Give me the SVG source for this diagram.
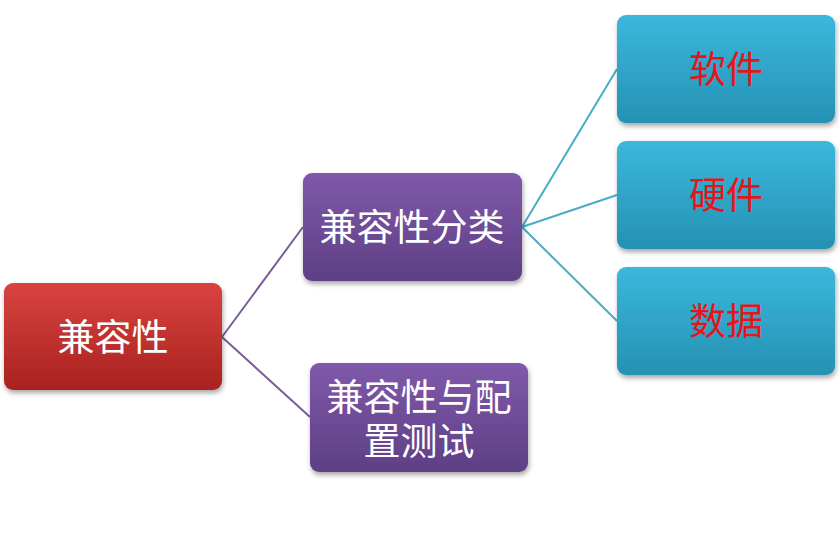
<svg xmlns="http://www.w3.org/2000/svg" width="840" height="548" viewBox="0 0 840 548">
<defs>
<linearGradient id="gr" x1="0" y1="0" x2="0" y2="1"><stop offset="0" stop-color="#d9433f"/><stop offset="1" stop-color="#a9221f"/></linearGradient>
<linearGradient id="gp" x1="0" y1="0" x2="0" y2="1"><stop offset="0" stop-color="#8059aa"/><stop offset="1" stop-color="#5e3f85"/></linearGradient>
<linearGradient id="gc" x1="0" y1="0" x2="0" y2="1"><stop offset="0" stop-color="#3bb8dc"/><stop offset="1" stop-color="#2591b3"/></linearGradient>
<filter id="sh" x="-10%" y="-10%" width="125%" height="130%"><feDropShadow dx="1" dy="3" stdDeviation="2.5" flood-color="#000" flood-opacity="0.35"/></filter>
</defs>
<style>
text{font-family:"Noto Sans CJK SC",sans-serif;font-size:37px;text-anchor:middle;dominant-baseline:central}
.w{fill:#fff}.r{fill:#e8141b}
.lp{stroke:#7a5d99;stroke-width:2;fill:none}.lc{stroke:#4aabc4;stroke-width:2;fill:none}
</style>
<rect width="840" height="548" fill="#fff"/>
<g id="connectors">
<path class="lp" d="M222 337 L303 227 M222 337 L310 417"/>
<path class="lc" d="M522 227 L617 69 M522 227 L617 195 M522 227 L617 321"/>
</g>
<g id="n1"><rect x="4" y="283" width="218" height="107" rx="9" fill="url(#gr)" filter="url(#sh)"/><text class="w" x="113" y="335">兼容性</text></g>
<g id="n2"><rect x="303" y="173" width="219" height="108" rx="9" fill="url(#gp)" filter="url(#sh)"/><text class="w" x="412" y="225">兼容性分类</text></g>
<g id="n3"><rect x="310" y="363" width="218" height="109" rx="9" fill="url(#gp)" filter="url(#sh)"/><text class="w" x="419" y="395">兼容性与配</text><text class="w" x="419" y="439">置测试</text></g>
<g id="n4"><rect x="617" y="15" width="218" height="108" rx="9" fill="url(#gc)" filter="url(#sh)"/><text class="r" x="726" y="67">软件</text></g>
<g id="n5"><rect x="617" y="141" width="218" height="108" rx="9" fill="url(#gc)" filter="url(#sh)"/><text class="r" x="726" y="193">硬件</text></g>
<g id="n6"><rect x="617" y="267" width="218" height="108" rx="9" fill="url(#gc)" filter="url(#sh)"/><text class="r" x="726" y="319">数据</text></g>
</svg>
